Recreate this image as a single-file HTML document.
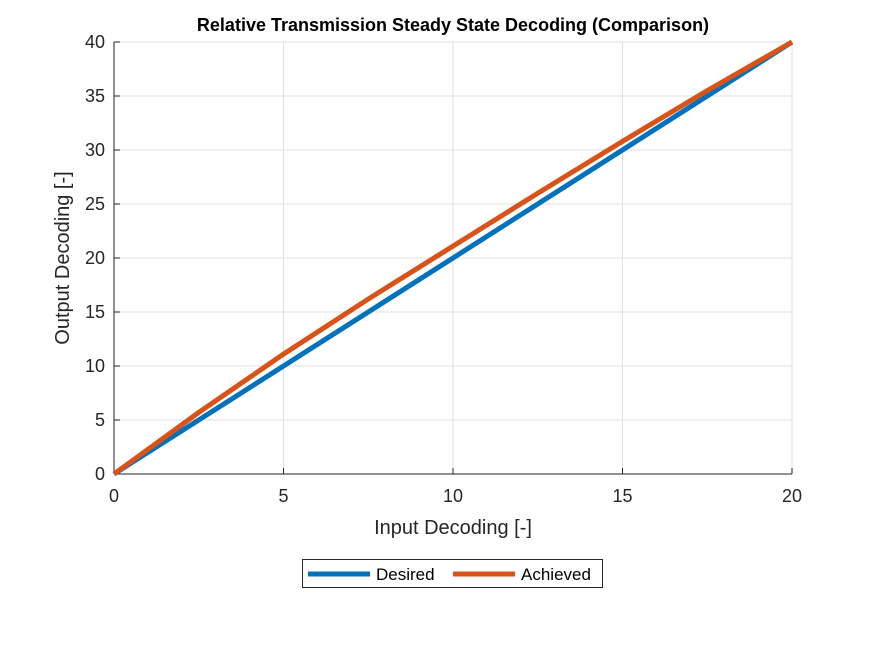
<!DOCTYPE html>
<html><head><meta charset="utf-8"><style>
body{margin:0;background:#fff;font-family:"Liberation Sans",sans-serif}
</style></head><body>
<svg id="chart" width="875" height="656" xmlns="http://www.w3.org/2000/svg" font-family="Liberation Sans, sans-serif">
<rect width="875" height="656" fill="#fff"/>
<g id="grid"></g>
<g id="axes"></g>
<g id="series"></g>
<text x="453" y="31" text-anchor="middle" font-size="18" font-weight="bold" fill="#000">Relative Transmission Steady State Decoding (Comparison)</text>
<text x="453" y="534" text-anchor="middle" font-size="20" fill="#262626">Input Decoding [-]</text>
<text transform="translate(69,258) rotate(-90)" text-anchor="middle" font-size="20" fill="#262626">Output Decoding [-]</text>
<g>
<rect x="302.5" y="559.5" width="300" height="28" fill="#fff" stroke="#262626" stroke-width="1"/>
<g>
<line x1="308" y1="574" x2="370" y2="574" stroke="#0072BD" stroke-width="5"/>
<text x="376" y="580" font-size="17" fill="#000">Desired</text></g>
<g>
<line x1="453" y1="574" x2="515" y2="574" stroke="#D95319" stroke-width="5"/>
<text x="521" y="580" font-size="17" fill="#000">Achieved</text></g>
</g>
</svg>
<script>
const xValues=[0,2.5,5,7.5,10,12.5,15,17.5,20];
const desired=[0,5,10,15,20,25,30,35,40];
const achieved=[0,5.7,11.1,16.2,21.1,26,30.8,35.5,40];
const xTicks=[0,5,10,15,20];
const yTicks=[0,5,10,15,20,25,30,35,40];
const L=114,R=792,T=42,B=474;
const sx=v=>L+(v-0)/20*(R-L), sy=v=>B-(v-0)/40*(B-T);
const NS="http://www.w3.org/2000/svg";
function mk(t,a,p){const e=document.createElementNS(NS,t);for(const k in a)e.setAttribute(k,a[k]);p.appendChild(e);return e;}
const g=document.getElementById('grid'),ax=document.getElementById('axes'),s=document.getElementById('series');
xTicks.forEach(v=>{
 const l=mk('line',{x1:sx(v),x2:sx(v),y1:T,y2:B,stroke:'#dfdfdf','stroke-width':1},g);
 
 
 mk('line',{x1:sx(v),x2:sx(v),y1:B,y2:B-6,stroke:'#262626'},ax);
 const t=mk('text',{x:sx(v),y:B+28,'text-anchor':'middle','font-size':18,fill:'#262626'},ax);t.textContent=v;
 
 
});
yTicks.forEach(v=>{
 const l=mk('line',{x1:L,x2:R,y1:sy(v),y2:sy(v),stroke:'#dfdfdf','stroke-width':1},g);
 
 
 mk('line',{x1:L,x2:L+6,y1:sy(v),y2:sy(v),stroke:'#262626'},ax);
 const t=mk('text',{x:L-9,y:sy(v)+6,'text-anchor':'end','font-size':18,fill:'#262626'},ax);t.textContent=v;
 
 
});
mk('line',{x1:L,x2:R,y1:B,y2:B,stroke:'#262626'},ax);
mk('line',{x1:L,x2:L,y1:T,y2:B,stroke:'#262626'},ax);
function path(ys,c,n){const p=mk('polyline',{points:xValues.map((x,i)=>sx(x)+','+sy(ys[i])).join(' '),fill:'none',stroke:c,'stroke-width':5,'stroke-linejoin':'round'},s);
 
 }
path(desired,'#0072BD','desired-line');
path(achieved,'#D95319','achieved-line');
</script>
</body></html>
